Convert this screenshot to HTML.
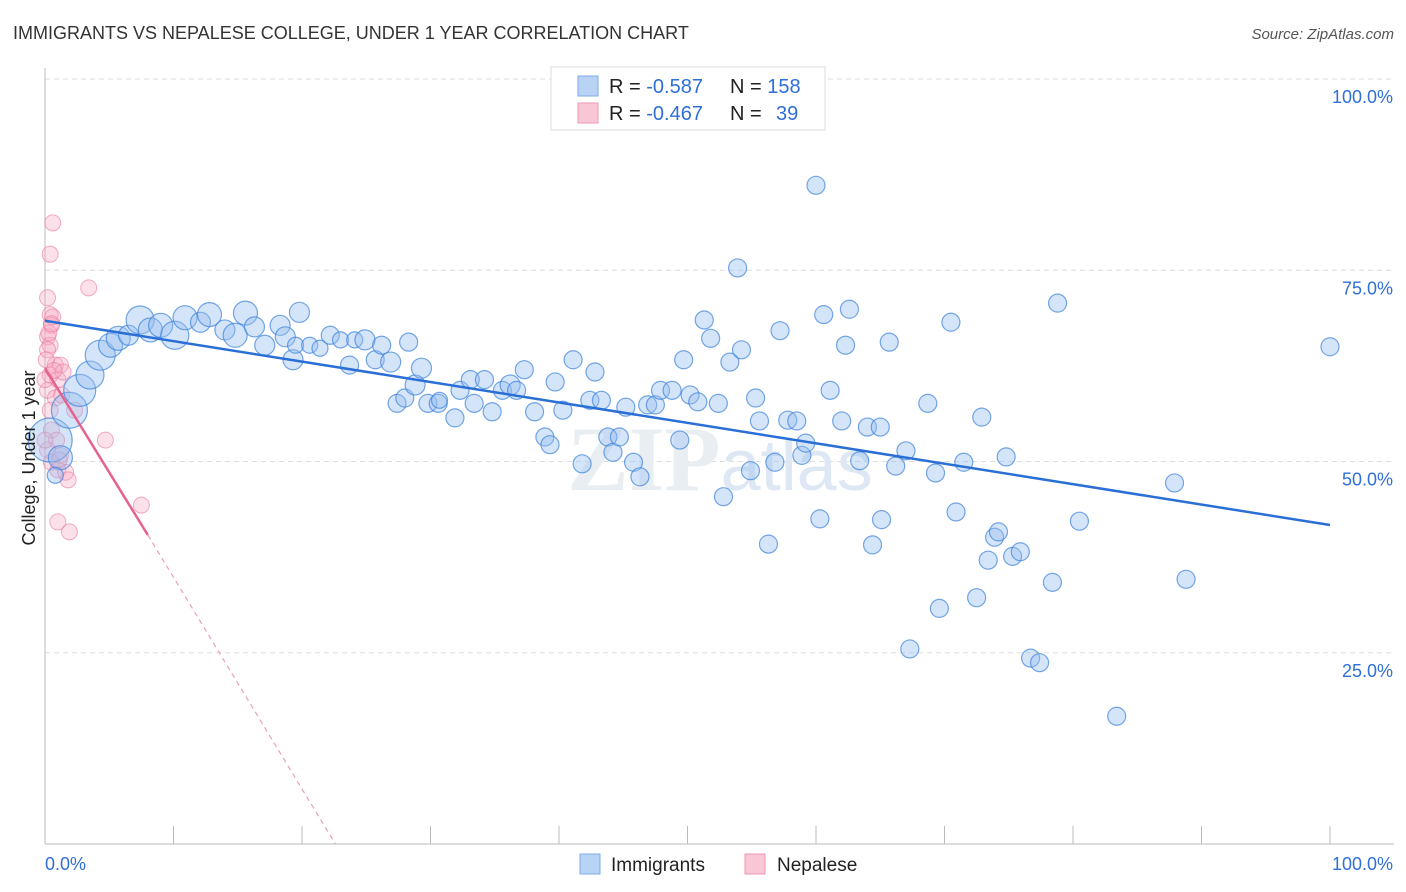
<!DOCTYPE html>
<html><head><meta charset="utf-8">
<style>
body{margin:0;background:#fff;font-family:"Liberation Sans",sans-serif;}
svg{display:block}
</style></head>
<body>
<svg id="chart" width="1406" height="892" viewBox="0 0 1406 892" xmlns="http://www.w3.org/2000/svg">
<text x="13" y="39" font-size="18" fill="#333">IMMIGRANTS VS NEPALESE COLLEGE, UNDER 1 YEAR CORRELATION CHART</text>
<text x="1394" y="39" font-size="15" fill="#555" text-anchor="end" font-style="italic">Source: ZipAtlas.com</text>
<g id="grid"></g>
<g id="axes"></g>
<text x="720" y="490" font-size="92" fill="#e9eef3" text-anchor="middle" font-family="Liberation Serif, serif" font-weight="bold">ZIP<tspan font-family="Liberation Sans, sans-serif" font-weight="normal" fill="#dde8f4" font-size="72">atlas</tspan></text>
<g id="pinkpts"></g>
<g id="bluepts"></g>
<g id="trends"></g>
<text x="-458" y="35" transform="rotate(-90)" font-size="18" fill="#222" text-anchor="middle">College, Under 1 year</text>
<g>
<rect x="551" y="67" width="274" height="63" fill="#fff" stroke="#ddd"/>
<rect x="578" y="76" width="20" height="20" fill="#b9d3f5" stroke="#7eaaea"/>
<rect x="578" y="103" width="20" height="20" fill="#f9c6d5" stroke="#ee9ab3"/>
<text x="609" y="93" font-size="20" fill="#222">R = <tspan fill="#2f6fd8">-0.587</tspan><tspan x="730">N = </tspan><tspan fill="#2f6fd8">158</tspan></text>
<text x="609" y="120" font-size="20" fill="#222">R = <tspan fill="#2f6fd8">-0.467</tspan><tspan x="730">N = </tspan><tspan fill="#2f6fd8" x="776">39</tspan></text>
</g>
<g>
<rect x="580" y="854" width="20" height="20" fill="#b9d3f5" stroke="#7eaaea"/>
<text x="611" y="871" font-size="19" fill="#222">Immigrants</text>
<rect x="745" y="854" width="20" height="20" fill="#f9c6d5" stroke="#ee9ab3"/>
<text x="777" y="871" font-size="19" fill="#222">Nepalese</text>
</g>
</svg>
<script>
const yTicks=[25,50,75,100];
const yTickLabels=["25.0%","50.0%","75.0%","100.0%"];
const xTickCount=10;
const blueX=[0.4,1.2,0.8,1.9,2.7,3.5,4.3,5.1,5.7,6.5,7.4,8.2,9.0,10.1,10.9,12.1,12.8,14.0,14.8,15.6,16.3,17.1,18.3,18.7,19.3,19.8,19.5,20.6,21.4,22.2,23.0,23.7,24.1,24.9,25.7,26.2,26.9,27.4,28.0,28.3,28.8,29.3,29.8,30.6,30.7,31.9,32.3,33.1,33.4,34.2,34.8,35.6,36.2,36.7,37.3,38.1,38.9,39.3,39.7,40.3,41.1,41.8,42.4,42.8,43.3,43.8,44.2,44.7,45.2,45.8,46.3,46.9,47.5,47.9,48.8,49.4,49.7,50.2,50.8,51.3,51.8,52.4,52.8,53.3,53.9,54.2,54.9,55.3,55.6,56.3,56.8,57.2,57.8,58.5,58.9,59.2,60.0,60.3,60.6,61.1,62.0,62.3,62.6,63.4,64.0,64.4,65.0,65.1,65.7,66.2,67.0,67.3,68.7,69.3,69.6,70.5,70.9,71.5,72.5,72.9,73.4,73.9,74.2,74.8,75.3,75.9,76.7,77.4,78.4,78.8,80.5,83.4,87.9,88.8,100];
const blueY=[52.8,50.5,48.2,56.7,59.3,61.3,63.9,65.2,66.1,66.5,68.5,67.2,67.8,66.5,68.8,68.2,69.2,67.2,66.5,69.4,67.6,65.2,67.8,66.3,63.3,69.5,65.2,65.2,64.8,66.5,65.9,62.6,65.9,65.9,63.3,65.2,63.0,57.6,58.3,65.6,60.0,62.2,57.6,57.6,58.0,55.7,59.3,60.7,57.6,60.7,56.5,59.3,60.0,59.3,62.0,56.5,53.2,52.2,60.4,56.7,63.3,49.7,58.0,61.7,58.0,53.2,51.2,53.2,57.1,49.9,48.0,57.4,57.4,59.3,59.3,52.8,63.3,58.7,57.8,68.5,66.1,57.6,45.4,63.0,75.3,64.6,48.8,58.3,55.3,39.2,49.9,67.1,55.4,55.3,50.8,52.4,86.1,42.5,69.2,59.3,55.3,65.2,69.9,50.1,54.5,39.1,54.5,42.4,65.6,49.4,51.4,25.5,57.6,48.5,30.8,68.2,43.4,49.9,32.2,55.8,37.1,40.1,40.8,50.6,37.6,38.2,24.3,23.7,34.2,70.7,42.2,16.7,47.2,34.6,65.0];
const blueSize=[22,12,8,18,16,14,15,12,12,10,14,12,12,14,12,10,12,10,12,12,10,10,10,10,10,10,8,8,8,9,8,9,8,10,9,9,10,9,9,9,10,10,9,9,8,9,9,9,9,9,9,9,10,9];
const pinkX=[0.6,0.4,3.4,0.2,0.4,0.5,0.2,0.4,0.8,1.2,0.4,1.0,0.2,0.8,1.3,0.4,2.3,0.5,0.9,0.2,1.2,0.5,1.0,1.6,4.7,7.5,1.0,1.9,0.2,1.4,0,0.6,0,1.8,0.1,0.3,0.7,1.1,0.5];
const pinkY=[81.2,77.1,72.7,71.4,69.2,67.8,66.3,65.2,62.6,62.6,61.3,60.7,59.3,58.3,58.7,56.7,56.7,54.1,52.8,51.5,50.8,49.9,48.9,48.6,52.8,44.3,42.1,40.8,64.6,61.7,60.7,68.9,52.8,47.6,63.3,66.8,61.9,50.2,68.0];
const blueTrend=[[0,68.4],[100,41.7]];
const pinkTrend=[[0,62.2],[8.0,40.4]];
const pinkTrendDash=[[8.0,40.4],[22.6,0]];

const X=v=>45+v*12.85, Y=v=>844-v*7.65;
const NS="http://www.w3.org/2000/svg";
function mk(tag,attrs,parent){const e=document.createElementNS(NS,tag);for(const k in attrs)e.setAttribute(k,attrs[k]);parent.appendChild(e);return e;}
const grid=document.getElementById('grid'),axes=document.getElementById('axes');
yTicks.forEach((t,i)=>{
 const l=mk('line',{x1:45,x2:1394,y1:Y(t),y2:Y(t),stroke:'#ddd','stroke-dasharray':'5,4'},grid);
 
 
 const tx=mk('text',{x:1393,y:Y(t)+24,'font-size':18,fill:'#2f6fd8','text-anchor':'end'},axes);
 tx.textContent=yTickLabels[i];
 
 
});
const ya=mk('line',{x1:45,x2:45,y1:68,y2:844,stroke:'#bbb'},axes);


const xa=mk('line',{x1:45,x2:1394,y1:844,y2:844,stroke:'#bbb'},axes);


for(let i=0;i<=xTickCount;i++){
 const v=i*100/xTickCount;
 const t=mk('line',{x1:X(v),x2:X(v),y1:826,y2:844,stroke:'#bbb'},axes);
 
 
}
const x0=mk('text',{x:45,y:870,'font-size':18,fill:'#2f6fd8'},axes);x0.textContent='0.0%';


const x1=mk('text',{x:1393,y:870,'font-size':18,fill:'#2f6fd8','text-anchor':'end'},axes);x1.textContent='100.0%';



const pg=document.getElementById('pinkpts');
pinkX.forEach((v,i)=>{
 const c=mk('circle',{cx:X(v),cy:Y(pinkY[i]),r:8,fill:'rgba(246,170,195,0.35)',stroke:'rgba(234,120,155,0.6)','stroke-width':1},pg);
 
 
});
const bg=document.getElementById('bluepts');
blueX.forEach((v,i)=>{
 const r=i<blueSize.length?blueSize[i]:9;
 const c=mk('circle',{cx:X(v),cy:Y(blueY[i]),r:r,fill:'rgba(150,190,240,0.4)',stroke:'rgba(60,130,220,0.7)','stroke-width':1.2},bg);
 
 
});
const tg=document.getElementById('trends');
const b=mk('line',{x1:X(blueTrend[0][0]),y1:Y(blueTrend[0][1]),x2:X(blueTrend[1][0]),y2:Y(blueTrend[1][1]),stroke:'#2a6fd6','stroke-width':2.5},tg);


const p=mk('line',{x1:X(pinkTrend[0][0]),y1:Y(pinkTrend[0][1]),x2:X(pinkTrend[1][0]),y2:Y(pinkTrend[1][1]),stroke:'#e5638e','stroke-width':2.5},tg);


const pd=mk('line',{x1:X(pinkTrendDash[0][0]),y1:Y(pinkTrendDash[0][1]),x2:X(pinkTrendDash[1][0]),y2:Y(pinkTrendDash[1][1]),stroke:'#eaa0b8','stroke-width':1.2,'stroke-dasharray':'5,4'},tg);


</script>
</body></html>
